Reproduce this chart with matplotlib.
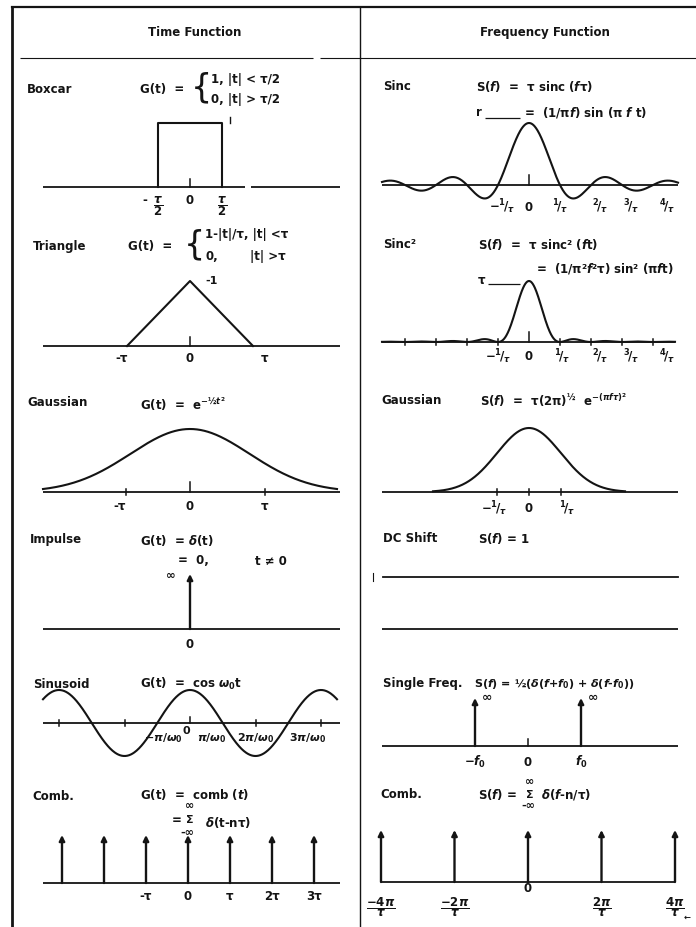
import numpy as np
import matplotlib.pyplot as plt
from matplotlib import transforms

plt.rcParams['font.family'] = ['DejaVu Sans']
plt.rcParams['font.weight'] = 'bold'
plt.rcParams['mathtext.fontset'] = 'custom'
plt.rcParams['mathtext.rm'] = 'DejaVu Sans:bold'
plt.rcParams['mathtext.it'] = 'DejaVu Sans:italic:bold'
plt.rcParams['mathtext.bf'] = 'DejaVu Sans:bold'
plt.rcParams['mathtext.sf'] = 'DejaVu Sans:bold'

# ---- data (x in units of tau, 1/tau, pi/w0 ...) ----
boxcar_t = [-0.5, -0.5, 0.5, 0.5]
boxcar_g = [0, 1, 1, 0]
triangle_t = [-1, 0, 1]
triangle_g = [0, 1, 0]
impulse_t = [0]
comb_t = [-3, -2, -1, 0, 1, 2, 3]
comb_f = [-2, -1, 0, 1, 2]          # multiples of 2pi/tau
single_f = [-1, 1]                   # multiples of f0
sinc2_ticks = [-4, -3, -2, -1, 1, 2, 3, 4]
gauss_t_ticks = [-0.91, 1.07]
gauss_f_ticks = [-1, 1]
sinus_ticks = [-2, -1, 1, 2]

boxcar_labels = ["0"]
triangle_pos = [-1.08, 0, 1.19]
triangle_labels = ["-τ", "0", "τ"]
gauss_t_pos = [-1.0, 0, 1.07]
gauss_t_labels = ["-τ", "0", "τ"]
sinc_pos = [-0.87, 0, 1.0, 2.3, 3.3, 4.45]
sinc_labels = [r"$-{}^{1}\!/_{\tau}$", "0", r"${}^{1}\!/_{\tau}$", r"${}^{2}\!/_{\tau}$",
               r"${}^{3}\!/_{\tau}$", r"${}^{4}\!/_{\tau}$"]
sinc2_pos = [-1.0, 0, 1.07, 2.3, 3.3, 4.45]
gauss_f_pos = [-1.1, 0, 1.2]
gauss_f_labels = [r"$-{}^{1}\!/_{\tau}$", "0", r"${}^{1}\!/_{\tau}$"]
sinus_pos = [-0.4, -0.05, 0.33, 1.0, 1.8]
sinus_labels = [r"$-\pi/\omega_0$", "0", r"$\pi/\omega_0$", r"$2\pi/\omega_0$", r"$3\pi/\omega_0$"]
comb_t_labels = {-1: "-τ", 0: "0", 1: "τ", 2: "2τ", 3: "3τ"}
comb_f_labels = [r"$\dfrac{-4\pi}{\tau}$", r"$\dfrac{-2\pi}{\tau}$", "0",
                 r"$\dfrac{2\pi}{\tau}$", r"$\dfrac{4\pi}{\tau}$"]
single_labels = [r"$-\mathit{f}_0$", "0", r"$\mathit{f}_0$"]

W, H = 696, 927
INK = '#141414'
FS = 8.5
LW = 1.5

fig = plt.figure(figsize=(W / 100, H / 100), dpi=100)
base = fig.add_axes([0, 0, 1, 1])
base.set_xlim(0, W)
base.set_ylim(H, 0)
base.axis('off')


def txt(x, y, s, size=FS, ha='left', **kw):
    base.text(x, y, s, fontsize=size, ha=ha, va='center', color=INK, **kw)


def hline(x0, x1, y, lw=1.0):
    base.plot([x0, x1], [y, y], color=INK, lw=lw, solid_capstyle='butt')


def panel(x0_px, xunit, y0_px, yunit, left=40, right=345):
    # axes whose data origin sits at (x0_px, y0_px) of the page
    top, bottom = y0_px - 95, y0_px + 50
    ax = fig.add_axes([left / W, 1 - bottom / H, (right - left) / W, (bottom - top) / H])
    ax.set_xlim((left - x0_px) / xunit, (right - x0_px) / xunit)
    ax.set_ylim((y0_px - bottom) / yunit, (y0_px - top) / yunit)
    ax.axis('off')
    ax.patch.set_alpha(0)
    return ax


def axis_line(ax, x0, x1):
    ax.plot([x0, x1], [0, 0], color=INK, lw=1.3, solid_capstyle='butt')


def tick(ax, x, dy0_px, dy1_px, yunit):
    ax.plot([x, x], [dy0_px / yunit, dy1_px / yunit], color=INK, lw=1.1)


def lab(ax, x, y_px, s, size=FS):
    tr = transforms.blended_transform_factory(ax.transData, base.transData)
    base.text(x, y_px, s, transform=tr, ha='center', va='center', fontsize=size, color=INK)


def arrow(ax, x, h):
    ax.annotate('', xy=(x, h), xytext=(x, 0),
                arrowprops=dict(arrowstyle='-|>', lw=1.7, color=INK, mutation_scale=8,
                                shrinkA=0, shrinkB=0))


# ---- frame ----
base.plot([12, 696], [7, 7], color=INK, lw=1.6)
base.plot([12, 12], [7, 927], color=INK, lw=2.0)
base.plot([360, 360], [7, 927], color=INK, lw=1.0)
hline(20, 313, 58, lw=0.8)
hline(320, 696, 58, lw=0.8)
txt(195, 32, "Time Function", ha='center')
txt(545, 32, "Frequency Function", ha='center')

# ---- Boxcar ----
txt(27, 89, "Boxcar")
txt(140, 89, "G(t)  =")
txt(191, 88, "{", size=24, fontweight='normal')
txt(211, 79, "1, |t| < τ/2")
txt(211, 99, "0, |t| > τ/2")
ax = panel(190, 64, 187, 64)
axis_line(ax, (43 - 190) / 64, (245 - 190) / 64)
axis_line(ax, (251 - 190) / 64, (340 - 190) / 64)
ax.plot(boxcar_t, boxcar_g, color=INK, lw=LW)
tick(ax, 0, 0, 8, 64)
ax.plot([0.62, 0.62], [1.0, 1.1], color=INK, lw=1.0)
lab(ax, -0.71, 200, "-")
lab(ax, -0.5, 206, r"$\dfrac{\tau}{2}$")
lab(ax, 0, 200, boxcar_labels[0])
lab(ax, 0.5, 206, r"$\dfrac{\tau}{2}$")

# ---- Triangle ----
txt(33, 246, "Triangle")
txt(128, 246, "G(t)  =")
txt(184, 245, "{", size=24, fontweight='normal')
txt(205, 234, "1-|t|/τ, |t| <τ")
txt(205, 256, "0,")
txt(250, 256, "|t| >τ")
ax = panel(190, 63, 346, 65)
axis_line(ax, (43 - 190) / 63, (340 - 190) / 63)
ax.plot(triangle_t, triangle_g, color=INK, lw=LW)
tick(ax, 0, 0, 9, 65)
ax.text(0.25, 1.0, "-1", fontsize=8, color=INK, va='center')
for x, s in zip(triangle_pos, triangle_labels):
    lab(ax, x, 359, s)

# ---- Gaussian (time) ----
txt(27, 402, "Gaussian")
txt(140, 404, r"G(t)  =  e$^{-½t^{2}}$")
ax = panel(190, 70, 492, 63)
axis_line(ax, (43 - 190) / 70, (340 - 190) / 70)
t = np.linspace((43 - 190) / 70, (337 - 190) / 70, 400)
ax.plot(t, np.exp(-0.5 * (t / 0.85) ** 2), color=INK, lw=LW)
tick(ax, 0, 0, 10, 63)
for x in gauss_t_ticks:
    tick(ax, x, -3, 3, 63)
for x, s in zip(gauss_t_pos, gauss_t_labels):
    lab(ax, x, 506, s)

# ---- Impulse ----
txt(30, 540, "Impulse")
txt(140, 540, r"G(t)  = $\delta$(t)")
txt(178, 561, "=  0,")
txt(255, 561, "t ≠ 0")
txt(166, 575, "∞")
ax = panel(190, 70, 629, 55)
axis_line(ax, (43 - 190) / 70, (340 - 190) / 70)
for x in impulse_t:
    arrow(ax, x, 1)
lab(ax, 0, 644, "0")

# ---- Sinusoid ----
txt(33, 684, "Sinusoid")
txt(140, 684, r"G(t)  =  cos $\omega_0$t")
ax = panel(190, 65.5, 723, 33)
axis_line(ax, (43 - 190) / 65.5, (340 - 190) / 65.5)
x = np.linspace((43 - 190) / 65.5, (337 - 190) / 65.5, 500)
ax.plot(x, np.cos(np.pi * x), color=INK, lw=LW)
tick(ax, 0, 0, 6, 33)
for xt in sinus_ticks:
    tick(ax, xt, -3, 3, 33)
for xp, s, y in zip(sinus_pos, sinus_labels, [738, 731, 738, 738, 738]):
    lab(ax, xp, y, s, size=8)

# ---- Comb (time) ----
txt(32, 796, "Comb.")
txt(140, 794, r"G(t)  =  comb $\mathit{(t)}$")
txt(172, 821, "=")
txt(190, 820, "Σ", size=8, ha='center')
txt(190, 806, "∞", size=8, ha='center')
txt(187, 833, "-∞", size=8, ha='center')
txt(205, 822, r"$\delta$(t-nτ)")
ax = panel(188, 42, 883, 48)
axis_line(ax, (43 - 188) / 42, (340 - 188) / 42)
for n in comb_t:
    arrow(ax, n, 1)
for n, s in comb_t_labels.items():
    lab(ax, n, 896, s)

# ---- Sinc ----
txt(383, 86, "Sinc")
txt(476, 86, r"S($\mathit{f}$)  =  τ sinc ($\mathit{f}$τ)")
txt(476, 112, "r")
hline(485, 520, 118, lw=0.9)
txt(524, 112, r"=  (1/π$\mathit{f}$) sin (π $\mathit{f}$ t)")
ax = panel(529, 31, 185, 62, left=375, right=690)
axis_line(ax, (382 - 529) / 31, (678 - 529) / 31)
f = np.linspace((382 - 529) / 31, (678 - 529) / 31, 800)
ax.plot(f, np.sinc(f), color=INK, lw=LW)
tick(ax, 0, 0, 10, 62)
for xp, s in zip(sinc_pos, sinc_labels):
    lab(ax, xp, 207, s)

# ---- Sinc^2 ----
txt(383, 244, "Sinc²")
txt(478, 244, r"S($\mathit{f}$)  =  τ sinc² ($\mathit{f}$t)")
txt(536, 268, r"=  (1/π²$\mathit{f}$²τ) sin² (π$\mathit{f}$t)")
txt(478, 281, "τ")
hline(488, 520, 284, lw=0.9)
ax = panel(529, 31, 342, 61, left=375, right=690)
axis_line(ax, (382 - 529) / 31, (675 - 529) / 31)
f = np.linspace((382 - 529) / 31, (675 - 529) / 31, 800)
ax.plot(f, np.sinc(f) ** 2, color=INK, lw=LW)
tick(ax, 0, 0, 10, 61)
for xt in sinc2_ticks:
    tick(ax, xt, -3, 3, 61)
for xp, s in zip(sinc2_pos, sinc_labels):
    lab(ax, xp, 357, s)

# ---- Gaussian (frequency) ----
txt(381, 400, "Gaussian")
txt(480, 400, r"S($\mathit{f}$)  =  τ(2π)$^{½}$  e$^{-(\pi f \tau)^{2}}$")
ax = panel(529, 32, 492, 64, left=375, right=690)
axis_line(ax, (382 - 529) / 32, (678 - 529) / 32)
f = np.linspace(-3, 3, 400)
ax.plot(f, np.exp(-0.5 * f ** 2), color=INK, lw=LW)
tick(ax, 0, -3, 3, 64)
for xt in gauss_f_ticks:
    tick(ax, xt, -3, 3, 64)
for xp, s in zip(gauss_f_pos, gauss_f_labels):
    lab(ax, xp, 509, s)

# ---- DC shift ----
txt(383, 539, "DC Shift")
txt(478, 539, r"S($\mathit{f}$) = 1")
ax = panel(529, 31, 629, 52, left=365, right=690)
ax.plot([(383 - 529) / 31, (678 - 529) / 31], [1, 1], color=INK, lw=1.3)
ax.plot([(373 - 529) / 31] * 2, [0.92, 1.08], color=INK, lw=0.8)
axis_line(ax, (382 - 529) / 31, (678 - 529) / 31)

# ---- Single frequency ----
txt(383, 684, "Single Freq.")
txt(474, 684, r"S($\mathit{f}$) = ½($\delta$($\mathit{f}$+$\mathit{f}_0$) + $\delta$($\mathit{f}$-$\mathit{f}_0$))",
    size=8)
ax = panel(528, 53, 746, 48, left=375, right=690)
axis_line(ax, (382 - 528) / 53, (678 - 528) / 53)
for fx in single_f:
    arrow(ax, fx, 1)
    ax.text(fx + 0.13, 1.02, "∞", fontsize=9, color=INK, va='center')
tick(ax, 0, 0, 7, 48)
for fx, s in zip([-1, 0, 1], single_labels):
    lab(ax, fx, 762, s)

# ---- Comb (frequency) ----
txt(380, 795, "Comb.")
txt(478, 795, r"S($\mathit{f}$) =")
txt(530, 795, "Σ", size=8, ha='center')
txt(530, 782, "∞", size=8, ha='center')
txt(528, 806, "-∞", size=8, ha='center')
txt(541, 795, r"$\delta$($\mathit{f}$-n/τ)")
ax = panel(528, 73.5, 882, 52, left=370, right=690)
axis_line(ax, comb_f[0], comb_f[-1])
for n in comb_f:
    arrow(ax, n, 1)
for n, s in zip(comb_f, comb_f_labels):
    lab(ax, n, 888 if s == "0" else 907, s)
txt(684, 917, "←", size=6)

fig.savefig('out.png', dpi=100)
